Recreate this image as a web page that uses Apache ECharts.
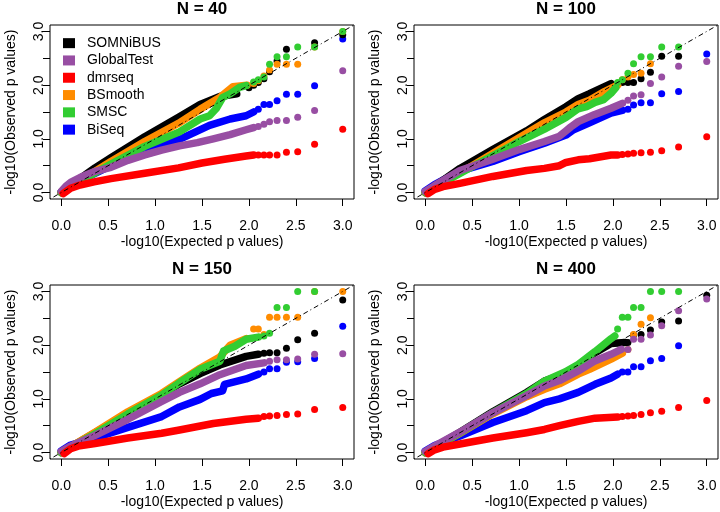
<!DOCTYPE html>
<html>
<head>
<meta charset="utf-8">
<script src="https://cdn.jsdelivr.net/npm/echarts@6/dist/echarts.min.js"></script>
<style>
html, body { margin: 0; padding: 0; background: #fff; }
#qqDiv { width: 720px; height: 512px; }
</style>
</head>
<body>
<div id="qqDiv"></div>
<script>
var methodNames = ['SOMNiBUS', 'GlobalTest', 'dmrseq', 'BSmooth', 'SMSC', 'BiSeq'];
var methodColors = ['#000000', '#984EA3', '#FF0000', '#FF8C00', '#32CD32', '#0000FF'];
var panelTitles = ['N = 40', 'N = 100', 'N = 150', 'N = 400'];
var xTicks = [0, 0.5, 1, 1.5, 2, 2.5, 3];
var yTicks = [0, 0.5, 1, 1.5, 2, 2.5, 3];
var yLabels = [0, 1, 2, 3];

// N = 40 : dense part of each curve (band) and the separate tail points
var somnibus40Band = [[0,0],[0.1,0.12],[0.2,0.26],[0.36,0.46],[0.53,0.65],[0.89,1.04],[1.25,1.4],[1.48,1.64],[1.69,1.79],[1.87,1.84]];
var somnibus40Pts = [[2.0,1.95],[2.05,2.0],[2.1,2.05],[2.16,2.12],[2.22,2.25],[2.3,2.45],[2.4,2.67],[2.7,2.79],[3.0,2.94]];
var globaltest40Band = [[0,0.02],[0.05,0.12],[0.1,0.19],[0.2,0.28],[0.35,0.39],[0.53,0.47],[0.71,0.6],[0.89,0.7],[1.07,0.79],[1.26,0.87],[1.45,0.93],[1.62,1.0],[1.8,1.08],[1.97,1.17],[2.05,1.21]];
var globaltest40Pts = [[2.1,1.23],[2.16,1.27],[2.22,1.32],[2.3,1.34],[2.4,1.34],[2.52,1.40],[2.7,1.53],[3.0,2.27]];
var dmrseq40Band = [[0.02,-0.02],[0.1,0.08],[0.2,0.14],[0.35,0.2],[0.53,0.26],[0.89,0.36],[1.25,0.46],[1.5,0.55],[1.74,0.62],[1.97,0.68],[2.05,0.70]];
var dmrseq40Pts = [[2.1,0.70],[2.16,0.70],[2.22,0.70],[2.3,0.70],[2.4,0.75],[2.52,0.76],[2.7,0.90],[3.0,1.18]];
var bsmooth40Band = [[0,0],[0.2,0.22],[0.53,0.58],[0.89,0.95],[1.25,1.29],[1.48,1.55],[1.69,1.77],[1.83,1.97],[1.98,2.0]];
var bsmooth40Pts = [[2.05,2.03],[2.1,2.08],[2.16,2.17],[2.22,2.28],[2.3,2.39],[2.4,2.39],[2.52,2.39],[2.7,2.71],[3.0,3.0]];
var smsc40Band = [[0,0],[0.2,0.21],[0.53,0.53],[0.89,0.86],[1.26,1.13],[1.48,1.37],[1.58,1.43],[1.65,1.56],[1.72,1.77],[1.80,1.84],[1.90,1.96],[1.97,1.99]];
var smsc40Pts = [[2.05,2.06],[2.1,2.1],[2.16,2.15],[2.22,2.39],[2.3,2.53],[2.4,2.53],[2.52,2.71],[2.7,2.71],[3.0,3.0]];
var biseq40Band = [[0,0.01],[0.2,0.22],[0.53,0.5],[0.89,0.78],[1.26,0.99],[1.58,1.25],[1.8,1.37],[1.97,1.43],[2.05,1.5]];
var biseq40Pts = [[2.1,1.55],[2.16,1.64],[2.22,1.64],[2.3,1.71],[2.4,1.83],[2.52,1.83],[2.7,1.99],[3.0,2.86]];

// N = 100
var somnibus100Band = [[0,0],[0.2,0.24],[0.37,0.45],[0.72,0.8],[1.08,1.15],[1.27,1.36],[1.5,1.6],[1.63,1.75],[1.75,1.84],[1.98,2.03]];
var somnibus100Pts = [[2.05,2.03],[2.1,2.05],[2.16,2.05],[2.22,2.05],[2.3,2.12],[2.4,2.24],[2.52,2.54],[2.7,2.54]];
var globaltest100Band = [[0,0.02],[0.1,0.13],[0.37,0.41],[0.72,0.62],[1.0,0.8],[1.27,0.95],[1.43,1.05],[1.5,1.15],[1.55,1.22],[1.63,1.32],[1.8,1.45],[1.98,1.57],[2.1,1.66]];
var globaltest100Pts = [[2.16,1.72],[2.22,1.8],[2.3,1.82],[2.4,2.03],[2.52,2.15],[2.7,2.35],[3.0,2.44]];
var dmrseq100Band = [[0.03,-0.02],[0.1,0.06],[0.19,0.11],[0.37,0.17],[0.72,0.30],[1.08,0.41],[1.27,0.45],[1.43,0.5],[1.5,0.56],[1.63,0.61],[1.75,0.63],[1.98,0.70],[2.05,0.70]];
var dmrseq100Pts = [[2.1,0.71],[2.16,0.72],[2.22,0.73],[2.3,0.74],[2.4,0.75],[2.52,0.78],[2.7,0.85],[3.0,1.04]];
var bsmooth100Band = [[0,0],[0.5,0.5],[1.0,1.02],[1.27,1.3],[1.5,1.5],[1.63,1.64],[1.75,1.72],[1.91,1.88],[2.05,2.0]];
var bsmooth100Pts = [[2.1,2.1],[2.16,2.15],[2.22,2.2],[2.3,2.22],[2.4,2.40]];
var smsc100Band = [[0,0],[0.5,0.48],[1.0,0.95],[1.27,1.18],[1.5,1.40],[1.63,1.56],[1.72,1.6],[1.81,1.68],[1.9,1.73],[1.98,1.85],[2.03,1.95]];
var smsc100Pts = [[2.05,2.05],[2.1,2.1],[2.16,2.22],[2.22,2.40],[2.3,2.53],[2.4,2.53],[2.52,2.71],[2.7,2.71]];
var biseq100Band = [[0,0.03],[0.1,0.15],[0.37,0.40],[0.72,0.58],[1.0,0.76],[1.27,0.92],[1.5,1.07],[1.58,1.17],[1.75,1.30],[1.98,1.48],[2.1,1.53]];
var biseq100Pts = [[2.16,1.55],[2.22,1.63],[2.3,1.67],[2.4,1.67],[2.52,1.84],[2.7,1.88],[3.0,2.58]];

// N = 150
var somnibus150Band = [[0,0],[0.36,0.37],[0.71,0.73],[1.07,1.08],[1.26,1.28],[1.48,1.47],[1.69,1.63],[1.97,1.79],[2.1,1.83]];
var somnibus150Pts = [[2.16,1.85],[2.22,1.86],[2.3,1.86],[2.4,1.94],[2.52,2.10],[2.7,2.22],[3.0,2.84]];
var globaltest150Band = [[0,0.02],[0.1,0.12],[0.36,0.32],[0.71,0.62],[1.07,0.95],[1.26,1.12],[1.48,1.28],[1.69,1.45],[1.97,1.62],[2.16,1.67]];
var globaltest150Pts = [[2.22,1.70],[2.3,1.73],[2.4,1.73],[2.52,1.74],[2.7,1.83],[3.0,1.84]];
var dmrseq150Band = [[0.03,-0.02],[0.1,0.07],[0.18,0.12],[0.36,0.17],[0.71,0.27],[1.07,0.36],[1.26,0.42],[1.62,0.54],[1.97,0.62],[2.1,0.64]];
var dmrseq150Pts = [[2.16,0.67],[2.22,0.68],[2.3,0.69],[2.4,0.71],[2.52,0.72],[2.7,0.80],[3.0,0.84]];
var bsmooth150Band = [[0,0],[0.36,0.38],[0.71,0.76],[1.07,1.1],[1.26,1.32],[1.48,1.57],[1.69,1.78],[1.8,2.0],[1.97,2.12]];
var bsmooth150Pts = [[2.05,2.3],[2.1,2.3],[2.16,2.2],[2.22,2.52],[2.3,2.52],[2.4,2.52],[2.52,2.52],[2.7,3.0],[3.0,3.0]];
var smsc150Band = [[0,0],[0.36,0.35],[0.71,0.72],[1.07,1.07],[1.26,1.3],[1.48,1.55],[1.69,1.70],[1.73,1.89],[1.85,1.98],[1.97,2.11],[2.1,2.15]];
var smsc150Pts = [[2.16,2.17],[2.22,2.22],[2.3,2.70],[2.4,2.70],[2.52,3.0],[2.7,3.0]];
var biseq150Band = [[0,0.03],[0.1,0.14],[0.36,0.27],[0.71,0.47],[1.07,0.67],[1.26,0.85],[1.48,0.99],[1.6,1.1],[1.72,1.15],[1.74,1.27],[1.97,1.37],[2.1,1.46]];
var biseq150Pts = [[2.16,1.5],[2.22,1.56],[2.3,1.56],[2.4,1.68],[2.52,1.69],[2.7,1.75],[3.0,2.35]];

// N = 400
var somnibus400Band = [[0,0],[0.37,0.38],[0.72,0.76],[1.08,1.12],[1.27,1.33],[1.43,1.43],[1.63,1.61],[1.81,1.86],[1.98,2.03],[2.13,2.05]];
var somnibus400Pts = [[2.16,2.05],[2.22,2.19],[2.3,2.2],[2.4,2.28],[2.52,2.43],[2.7,2.45],[3.0,2.93]];
var globaltest400Band = [[0,0.02],[0.1,0.12],[0.37,0.38],[0.72,0.74],[1.08,1.06],[1.27,1.24],[1.43,1.34],[1.63,1.52],[1.8,1.7],[1.98,1.83],[2.09,1.92]];
var globaltest400Pts = [[2.16,1.92],[2.22,2.11],[2.3,2.11],[2.4,2.19],[2.52,2.36],[2.7,2.64],[3.0,2.86]];
var dmrseq400Band = [[0.03,-0.02],[0.1,0.05],[0.19,0.1],[0.37,0.16],[0.72,0.27],[1.08,0.37],[1.27,0.43],[1.43,0.5],[1.63,0.58],[1.81,0.64],[2.05,0.66]];
var dmrseq400Pts = [[2.1,0.67],[2.16,0.68],[2.22,0.69],[2.3,0.71],[2.4,0.74],[2.52,0.77],[2.7,0.84],[3.0,0.97]];
var bsmooth400Band = [[0,0],[0.37,0.36],[0.72,0.72],[1.08,1.04],[1.27,1.18],[1.43,1.28],[1.63,1.46],[1.75,1.55],[1.98,1.74],[2.1,1.85]];
var bsmooth400Pts = [[2.16,1.92],[2.22,2.2],[2.3,2.39],[2.4,2.51]];
var smsc400Band = [[0,0],[0.37,0.37],[0.72,0.74],[1.08,1.1],[1.27,1.33],[1.49,1.5],[1.63,1.64],[1.81,1.88],[1.98,2.12],[2.02,2.17]];
var smsc400Pts = [[2.05,2.30],[2.1,2.52],[2.16,2.52],[2.22,2.70],[2.3,2.70],[2.4,3.0],[2.52,3.0],[2.7,3.0]];
var biseq400Band = [[0,0.03],[0.1,0.13],[0.37,0.31],[0.72,0.56],[1.08,0.78],[1.27,0.93],[1.43,1.0],[1.63,1.12],[1.81,1.27],[1.98,1.39],[2.05,1.46]];
var biseq400Pts = [[2.1,1.5],[2.16,1.5],[2.22,1.60],[2.3,1.60],[2.4,1.71],[2.52,1.75],[2.7,1.99]];

var bandData = [
	[somnibus40Band, globaltest40Band, dmrseq40Band, bsmooth40Band, smsc40Band, biseq40Band],
	[somnibus100Band, globaltest100Band, dmrseq100Band, bsmooth100Band, smsc100Band, biseq100Band],
	[somnibus150Band, globaltest150Band, dmrseq150Band, bsmooth150Band, smsc150Band, biseq150Band],
	[somnibus400Band, globaltest400Band, dmrseq400Band, bsmooth400Band, smsc400Band, biseq400Band]
];
var ptsData = [
	[somnibus40Pts, globaltest40Pts, dmrseq40Pts, bsmooth40Pts, smsc40Pts, biseq40Pts],
	[somnibus100Pts, globaltest100Pts, dmrseq100Pts, bsmooth100Pts, smsc100Pts, biseq100Pts],
	[somnibus150Pts, globaltest150Pts, dmrseq150Pts, bsmooth150Pts, smsc150Pts, biseq150Pts],
	[somnibus400Pts, globaltest400Pts, dmrseq400Pts, bsmooth400Pts, smsc400Pts, biseq400Pts]
];

var fontName = 'Liberation Sans, Arial, sans-serif';
var axisMin = -0.12, axisMax = 3.12;
var gridPos = [[50, 25], [414, 25], [50, 285], [414, 285]];
var gridW = 304, gridH = 174;
// which method is painted first (bottom) ... last (top)
var drawOrder = [5, 0, 3, 4, 1, 2];

var grids = [], xAxes = [], yAxes = [], titles = [], seriesArr = [];
for (var p = 0; p < 4; p++) {
	grids.push({
		left: gridPos[p][0], top: gridPos[p][1], width: gridW, height: gridH,
		show: true, borderColor: '#000', borderWidth: 1, backgroundColor: 'transparent'
	});
	xAxes.push({
		type: 'value', gridIndex: p, min: axisMin, max: axisMax,
		name: '-log10(Expected p values)', nameLocation: 'middle', nameGap: 36,
		nameTextStyle: {fontSize: 14, color: '#000', fontFamily: fontName},
		axisLine: {show: false, onZero: false},
		axisTick: {show: true, length: 7, customValues: xTicks, lineStyle: {color: '#000'}},
		axisLabel: {customValues: xTicks, margin: 20, fontSize: 14, color: '#000', fontFamily: fontName,
			formatter: function(v) { return v.toFixed(1); }},
		splitLine: {show: false}
	});
	yAxes.push({
		type: 'value', gridIndex: p, min: axisMin, max: axisMax,
		name: '-log10(Observed p values)', nameLocation: 'middle', nameGap: 32,
		nameTextStyle: {fontSize: 14, color: '#000', fontFamily: fontName},
		axisLine: {show: false, onZero: false},
		axisTick: {show: true, length: 7, customValues: yTicks, lineStyle: {color: '#000'}},
		axisLabel: {customValues: yLabels, rotate: 90, margin: 4, fontSize: 14, color: '#000', fontFamily: fontName,
			formatter: function(v) { return v.toFixed(1); }},
		splitLine: {show: false}
	});
	titles.push({
		text: panelTitles[p], left: gridPos[p][0] + gridW / 2, top: gridPos[p][1] - 24, textAlign: 'center', padding: 0,
		textStyle: {fontSize: 17, fontWeight: 'bold', color: '#000', fontFamily: fontName}
	});

	for (var k = 0; k < drawOrder.length; k++) {
		var m = drawOrder[k];
		seriesArr.push({
			name: methodNames[m], type: 'line', xAxisIndex: p, yAxisIndex: p,
			data: bandData[p][m], showSymbol: false, smooth: false,
			itemStyle: {color: methodColors[m]},
			lineStyle: {width: 7.5, color: methodColors[m], cap: 'round', join: 'round'},
			z: 2 + k
		});
		seriesArr.push({
			name: methodNames[m], type: 'scatter', xAxisIndex: p, yAxisIndex: p,
			data: ptsData[p][m], symbol: 'circle', symbolSize: 7,
			itemStyle: {color: methodColors[m], opacity: 1},
			z: 2 + k
		});
	}
	// y = x reference line
	seriesArr.push({
		type: 'line', xAxisIndex: p, yAxisIndex: p,
		data: [[axisMin, axisMin], [axisMax, axisMax]], showSymbol: false, silent: true,
		lineStyle: {width: 1, color: '#000', type: [1, 3, 5, 3]},
		z: 20
	});
}

var myChart = echarts.init(document.getElementById('qqDiv'));
var option = {
	animation: false,
	backgroundColor: '#fff',
	title: titles,
	legend: {
		data: methodNames, orient: 'vertical', left: 63, top: 36, padding: 0,
		icon: 'rect', itemWidth: 12, itemHeight: 10, itemGap: 3,
		textStyle: {fontSize: 14, color: '#000', fontFamily: fontName, lineHeight: 14.3, padding: [0, 0, 0, 7]}
	},
	grid: grids,
	xAxis: xAxes,
	yAxis: yAxes,
	series: seriesArr
};
myChart.setOption(option);
</script>
</body>
</html>
